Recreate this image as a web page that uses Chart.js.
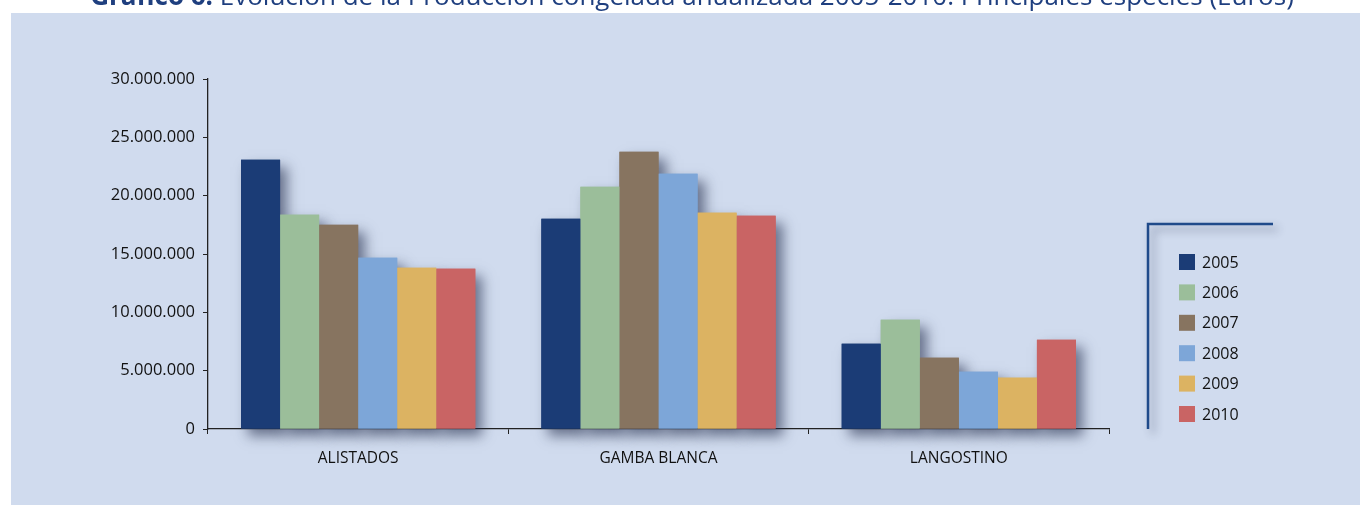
<!DOCTYPE html>
<html>
<head>
<meta charset="utf-8">
<script src="https://cdn.jsdelivr.net/npm/chart.js@4.4.0/dist/chart.umd.min.js"></script>
<style>
  html, body { margin: 0; padding: 0; background: #fff; }
</style>
</head>
<body>
<canvas id="chartOne" width="1360" height="506"></canvas>
<script>
// categories along the x-axis
var species = ["ALISTADOS", "GAMBA BLANCA", "LANGOSTINO"];
// one series per year (euros)
var years = ["2005", "2006", "2007", "2008", "2009", "2010"];
var v2005 = [23080000, 18020000, 7310000];
var v2006 = [18370000, 20760000, 9370000];
var v2007 = [17500000, 23760000, 6110000];
var v2008 = [14680000, 21880000, 4910000];
var v2009 = [13820000, 18540000, 4400000];
var v2010 = [13740000, 18280000, 7650000];
var colors = ["#1B3C76", "#9BBE9A", "#877460", "#7DA6D8", "#DCB362", "#C96464"];
// y-axis ticks
var yMax = 30000000;
var yStep = 5000000;

var titleBold = "Gráfico 6:";
var titleRest = " Evolución de la Producción congelada anualizada 2005-2010. Principales especies (Euros)";

var series = [v2005, v2006, v2007, v2008, v2009, v2010];
var datasets = years.map(function (y, i) {
  return { label: y, data: series[i], backgroundColor: colors[i], borderWidth: 0 };
});

function fmt(n) {
  return String(n).replace(/\B(?=(\d{3})+(?!\d))/g, ".");
}

var font = "'Open Sans', 'Noto Sans', sans-serif";

// panel, title, bar shadows and the legend
var decor = {
  id: "decor",
  beforeDraw: function (chart) {
    var ctx = chart.ctx;
    ctx.save();
    ctx.fillStyle = "#fff";
    ctx.fillRect(0, 0, chart.width, chart.height);
    ctx.fillStyle = "#D0DBEE";
    ctx.fillRect(11, 13, chart.width - 11, chart.height - 14);
    // title, partly cut at the top
    ctx.fillStyle = "#1F3F7F";
    ctx.textBaseline = "alphabetic";
    ctx.font = "bold 26px " + font;
    var w1 = ctx.measureText(titleBold).width;
    ctx.font = "26px " + font;
    var w2 = ctx.measureText(titleRest).width;
    var x = 692 - (w1 + w2) / 2;
    ctx.font = "bold 26px " + font;
    ctx.fillText(titleBold, x, 5);
    ctx.font = "26px " + font;
    ctx.fillText(titleRest, x + w1, 5);
    ctx.restore();
  },
  beforeDatasetsDraw: function (chart) {
    var ctx = chart.ctx;
    chart.data.datasets.forEach(function (ds, i) {
      chart.getDatasetMeta(i).data.forEach(function (bar) {
        var p = bar.getProps(["x", "y", "base", "width"], true);
        ctx.save();
        ctx.shadowColor = "rgba(35,45,75,0.6)";
        ctx.shadowBlur = 12;
        ctx.shadowOffsetX = 7;
        ctx.shadowOffsetY = 7;
        ctx.fillStyle = ds.backgroundColor;
        ctx.fillRect(p.x - p.width / 2, p.y, p.width, p.base - p.y);
        ctx.restore();
      });
    });
  },
  afterDraw: function (chart) {
    var ctx = chart.ctx;
    var left = chart.chartArea.right + 39;
    var top = 224;
    ctx.save();
    // frame of the legend (top and left sides)
    ctx.shadowColor = "rgba(35,45,75,0.45)";
    ctx.shadowBlur = 8;
    ctx.shadowOffsetX = 5;
    ctx.shadowOffsetY = 5;
    ctx.strokeStyle = "#1F4A8A";
    ctx.lineWidth = 2.5;
    ctx.beginPath();
    ctx.moveTo(left + 125, top);
    ctx.lineTo(left, top);
    ctx.lineTo(left, chart.chartArea.bottom);
    ctx.stroke();
    ctx.restore();

    ctx.save();
    ctx.font = "16px " + font;
    ctx.textBaseline = "middle";
    chart.data.datasets.forEach(function (ds, i) {
      var cy = 262 + i * 30.4;
      ctx.fillStyle = ds.backgroundColor;
      ctx.fillRect(left + 31, cy - 8, 16, 16);
      ctx.fillStyle = "#111";
      ctx.fillText(ds.label, left + 54, cy + 1);
    });
    ctx.restore();
  }
};

var ctx = document.getElementById("chartOne");
var chartOne = new Chart(ctx, {
  type: "bar",
  data: { labels: species, datasets: datasets },
  options: {
    responsive: false,
    animation: false,
    layout: { padding: { left: 0, right: 251, top: 79, bottom: 0 } },
    datasets: { bar: { categoryPercentage: 0.78, barPercentage: 1 } },
    plugins: { legend: { display: false }, tooltip: { enabled: false } },
    scales: {
      x: {
        z: 1,
        border: { display: true, color: "#222", width: 1.3 },
        grid: { display: true, drawOnChartArea: false, drawTicks: true, tickLength: 5, color: "#222" },
        ticks: { color: "#111", font: { family: font, size: 15.5 }, padding: 15 },
        afterFit: function (s) { s.height = 506 - 79 - 350; }
      },
      y: {
        z: 1,
        min: 0,
        max: yMax,
        border: { display: true, color: "#222", width: 1.3 },
        grid: { display: true, drawOnChartArea: false, drawTicks: true, tickLength: 5, color: "#222" },
        ticks: {
          stepSize: yStep,
          color: "#111",
          font: { family: font, size: 16.5 },
          padding: 8,
          callback: function (v) { return fmt(v); }
        },
        afterFit: function (s) { s.width = 208; }
      }
    }
  },
  plugins: [decor]
});
</script>
</body>
</html>
